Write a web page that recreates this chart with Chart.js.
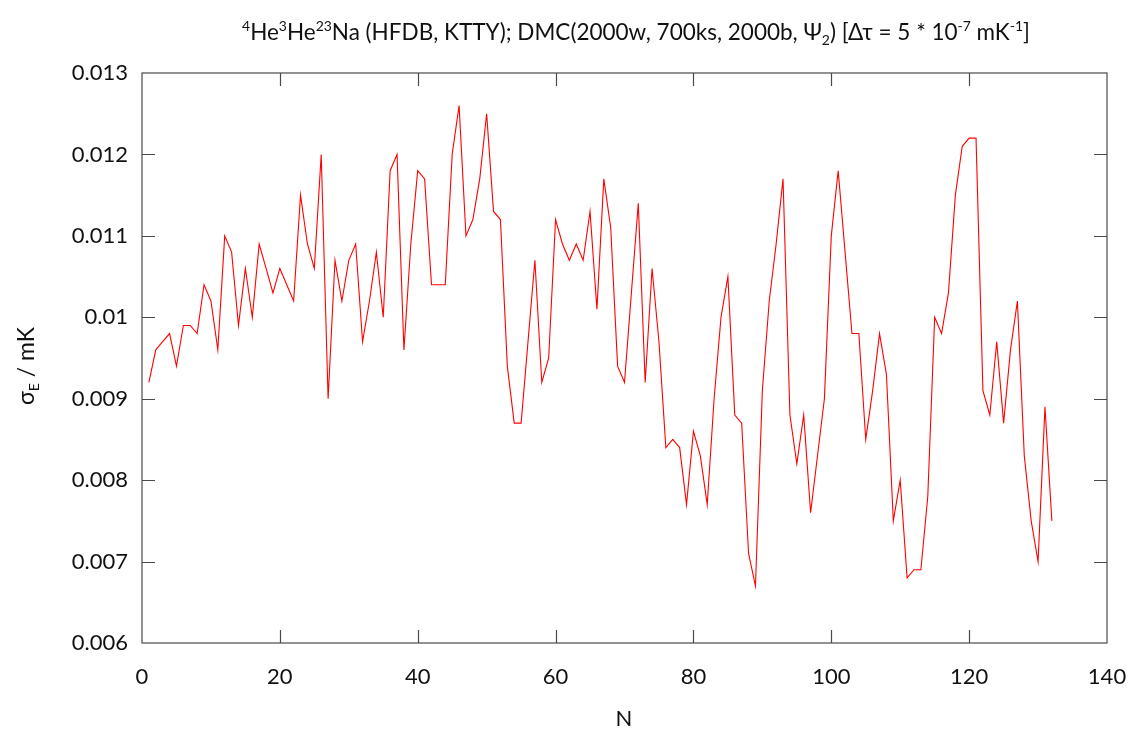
<!DOCTYPE html>
<html>
<head>
<meta charset="utf-8">
<script src="https://cdn.jsdelivr.net/npm/chart.js@4.4.1/dist/chart.umd.min.js"></script>
<style>
  html, body { margin: 0; padding: 0; background: #fff; }
  #wrap { width: 1132px; height: 733px; position: relative; }
</style>
</head>
<body>
<div id="wrap"><canvas id="c" width="1132" height="733"></canvas></div>
<script>
// ---- data ----
const nValues = [
  1,2,3,4,5,6,7,8,9,10,
  11,12,13,14,15,16,17,18,19,20,
  21,22,23,24,25,26,27,28,29,30,
  31,32,33,34,35,36,37,38,39,40,
  41,42,43,44,45,46,47,48,49,50,
  51,52,53,54,55,56,57,58,59,60,
  61,62,63,64,65,66,67,68,69,70,
  71,72,73,74,75,76,77,78,79,80,
  81,82,83,84,85,86,87,88,89,90,
  91,92,93,94,95,96,97,98,99,100,
  101,102,103,104,105,106,107,108,109,110,
  111,112,113,114,115,116,117,118,119,120,
  121,122,123,124,125,126,127,128,129,130,131,132
];
const sigmaE = [
  0.0092,0.0096,0.0097,0.0098,0.0094,0.0099,0.0099,0.0098,0.0104,0.0102,
  0.0096,0.0110,0.0108,0.0099,0.0106,0.0100,0.0109,0.0106,0.0103,0.0106,
  0.0104,0.0102,0.0115,0.0109,0.0106,0.0120,0.0090,0.0107,0.0102,0.0107,
  0.0109,0.0097,0.0102,0.0108,0.0100,0.0118,0.0120,0.0096,0.0109,0.0118,
  0.0117,0.0104,0.0104,0.0104,0.0120,0.0126,0.0110,0.0112,0.0117,0.0125,
  0.0113,0.0112,0.0094,0.0087,0.0087,0.0097,0.0107,0.0092,0.0095,0.0112,
  0.0109,0.0107,0.0109,0.0107,0.0113,0.0101,0.0117,0.0111,0.0094,0.0092,
  0.0103,0.0114,0.0092,0.0106,0.0097,0.0084,0.0085,0.0084,0.0077,0.0086,
  0.0083,0.0077,0.0090,0.0100,0.0105,0.0088,0.0087,0.0071,0.0067,0.0091,
  0.0102,0.0109,0.0117,0.0088,0.0082,0.0088,0.0076,0.0083,0.0090,0.0110,
  0.0118,0.0108,0.0098,0.0098,0.0085,0.0091,0.0098,0.0093,0.0075,0.0080,
  0.0068,0.0069,0.0069,0.0078,0.0100,0.0098,0.0103,0.0115,0.0121,0.0122,
  0.0122,0.0091,0.0088,0.0097,0.0087,0.0096,0.0102,0.0083,0.0075,0.0070,0.0089,0.0075
];
const xTicks = [0, 20, 40, 60, 80, 100, 120, 140];
const yTicks = [0.006, 0.007, 0.008, 0.009, 0.010, 0.011, 0.012, 0.013];
const yTickLabels = ['0.006', '0.007', '0.008', '0.009', '0.01', '0.011', '0.012', '0.013'];

const FONT = "Lato, 'Open Sans', sans-serif";
const AXIS_COLOR = '#4a4a4a';

function drawRich(ctx, segs, size, x, y, align) {
  const small = size * 0.62;
  let total = 0;
  segs.forEach(s => {
    ctx.font = (s[1] === 'n' ? size : small) + 'px ' + FONT;
    total += ctx.measureText(s[0]).width;
  });
  let cx = align === 'center' ? x - total / 2 : x;
  ctx.textAlign = 'left';
  ctx.textBaseline = 'alphabetic';
  segs.forEach(s => {
    const f = s[1] === 'n' ? size : small;
    ctx.font = f + 'px ' + FONT;
    let dy = 0;
    if (s[1] === 'sup') dy = -size * 0.42;
    if (s[1] === 'sub') dy = size * 0.22;
    ctx.fillText(s[0], cx, y + dy);
    cx += ctx.measureText(s[0]).width;
  });
}

const framePlugin = {
  id: 'frame',
  afterDatasetsDraw(chart) {
    const ctx = chart.ctx;
    const a = chart.chartArea;
    const xs = chart.scales.x, ys = chart.scales.y;
    ctx.save();
    ctx.strokeStyle = AXIS_COLOR;
    ctx.lineWidth = 1.2;
    ctx.strokeRect(a.left, a.top, a.right - a.left, a.bottom - a.top);
    const L = 13;
    ctx.beginPath();
    xTicks.forEach(v => {
      const px = Math.round(xs.getPixelForValue(v)) + 0.5;
      if (v === xTicks[0] || v === xTicks[xTicks.length - 1]) return;
      ctx.moveTo(px, a.bottom); ctx.lineTo(px, a.bottom - L);
      ctx.moveTo(px, a.top); ctx.lineTo(px, a.top + L);
    });
    yTicks.forEach(v => {
      const py = Math.round(ys.getPixelForValue(v)) + 0.5;
      if (v === yTicks[0] || v === yTicks[yTicks.length - 1]) return;
      ctx.moveTo(a.left, py); ctx.lineTo(a.left + L, py);
      ctx.moveTo(a.right, py); ctx.lineTo(a.right - L, py);
    });
    ctx.stroke();
    ctx.restore();
  },
  afterDraw(chart) {
    const ctx = chart.ctx;
    ctx.save();
    ctx.fillStyle = '#111';
    const titleSegs = [
      ['4','sup'],['He','n'],['3','sup'],['He','n'],['23','sup'],
      ['Na (HFDB, KTTY); DMC(2000w, 700ks, 2000b, \u03A8','n'],['2','sub'],
      [') [\u0394\u03C4 = 5 * 10','n'],['-7','sup'],[' mK','n'],['-1','sup'],[']','n']
    ];
    drawRich(ctx, titleSegs, 22.5, 636, 40, 'center');
    drawRich(ctx, [['N','n']], 22, 624, 726, 'center');
    ctx.translate(34, 366);
    ctx.rotate(-Math.PI / 2);
    drawRich(ctx, [['\u03C3','n'],['E','sub'],[' / mK','n']], 23, 0, 0, 'center');
    ctx.restore();
  }
};

new Chart(document.getElementById('c'), {
  type: 'line',
  data: {
    datasets: [{
      data: nValues.map((n, i) => ({ x: n, y: sigmaE[i] })),
      borderColor: '#ff0000',
      borderWidth: 1.1,
      pointRadius: 0,
      tension: 0,
      fill: false
    }]
  },
  options: {
    responsive: false,
    animation: false,
    devicePixelRatio: 1,
    layout: { padding: { top: 73, right: 25, left: 0, bottom: 0 } },
    plugins: { legend: { display: false }, tooltip: { enabled: false }, title: { display: false } },
    scales: {
      x: {
        type: 'linear', min: 0, max: 140,
        afterBuildTicks(s) { s.ticks = xTicks.map(v => ({ value: v })); },
        afterFit(s) { s.height = 90; s.paddingRight = 0; s.paddingLeft = 0; },
        grid: { display: false, drawTicks: false },
        border: { display: false },
        ticks: { padding: 21, color: '#111', font: { family: FONT, size: 22 }, maxRotation: 0 }
      },
      y: {
        type: 'linear', min: 0.006, max: 0.013,
        afterBuildTicks(s) { s.ticks = yTicks.map(v => ({ value: v })); },
        afterFit(s) { s.width = 142; s.paddingTop = 0; s.paddingBottom = 0; },
        grid: { display: false, drawTicks: false },
        border: { display: false },
        ticks: { padding: 14, color: '#111', font: { family: FONT, size: 22 },
                 callback: (v, i) => yTickLabels[i] }
      }
    }
  },
  plugins: [framePlugin]
});
</script>
</body>
</html>
